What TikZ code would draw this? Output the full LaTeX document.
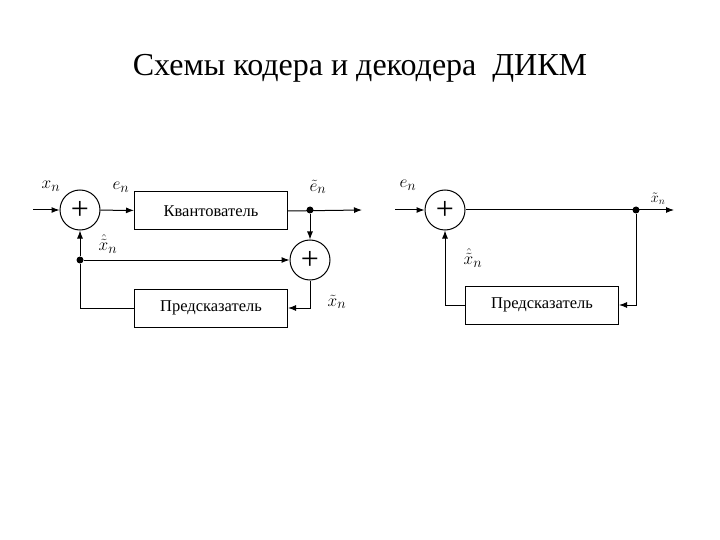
\documentclass[tikz,border=0pt]{standalone}
\usepackage{fontspec}
\setmainfont{Liberation Serif}
\usepackage{amsmath}
\usepackage{tikz}
\usetikzlibrary{calc,arrows,arrows.meta}

\begin{document}
\begin{tikzpicture}[x=1pt, y=-1pt, line width=1pt, >={Latex[length=8pt,width=6pt]},
  sum/.style={circle, draw, minimum size=40pt, inner sep=0pt, font=\fontsize{32}{32}\selectfont},
  block/.style={rectangle, draw, minimum width=153pt, minimum height=38pt, font=\fontsize{16.5}{16.5}\selectfont},
  dot/.style={circle, fill, inner sep=0pt, minimum size=7pt},
  lbl/.style={font=\fontsize{19}{19}\selectfont}]
  \useasboundingbox (0,0) rectangle (720,540);
  \node (title) at (360,68) {\fontsize{32}{32}\selectfont Схемы кодера и декодера\ \ ДИКМ};
  % coder
  \node[sum] (s1) at (80,210) {+};
  \node[block] (q) at (211,211) {Квантователь};
  \node[dot] (d1) at (310,210) {};
  \node[sum] (s2) at (310,260) {+};
  \node[dot] (d2) at (80,260) {};
  \node[block] (p1) at (211,308) {Предсказатель};
  \coordinate (in1) at (33,210);
  \coordinate (out1) at (362,210);
  \draw[->] (in1) -- (s1);
  \draw[->] (s1) -- (q);
  \draw[->] (q.east) -- (out1);
  \draw[->] (d1) -- (s2);
  \draw[->] (d2) -- (s2);
  \draw[->] (d2) -- (s1);
  \draw[->] (s2) |- (p1);
  \draw (p1) -| (d2);
  \node[lbl] (xn) at (51,186) {$x_n$};
  \node[lbl] (en) at (121,187) {$e_n$};
  \node[lbl] (etn) at (318,187) {$\tilde{e}_n$};
  \node[lbl] (xhn) at (108,244) {$\hat{\tilde{x}}_n$};
  \node[lbl] (xtn) at (337,302) {$\tilde{x}_n$};
  % decoder
  \node[sum] (s3) at (445,210) {+};
  \node[dot] (d3) at (636,210) {};
  \node[block] (p2) at (542,305) {Предсказатель};
  \coordinate (in2) at (395,210);
  \coordinate (out2) at (674,210);
  \draw[->] (in2) -- (s3);
  \draw[->] (s3) -- (out2);
  \draw[->] (d3) |- (p2);
  \draw[->] (p2) -| (s3);
  \node[lbl] (en2) at (408,185) {$e_n$};
  \node[lbl, font=\fontsize{14}{14}\selectfont] (xtn2) at (658,199) {$\tilde{x}_n$};
  \node[lbl] (xhn2) at (473,258) {$\hat{\tilde{x}}_n$};
\end{tikzpicture}
\end{document}
